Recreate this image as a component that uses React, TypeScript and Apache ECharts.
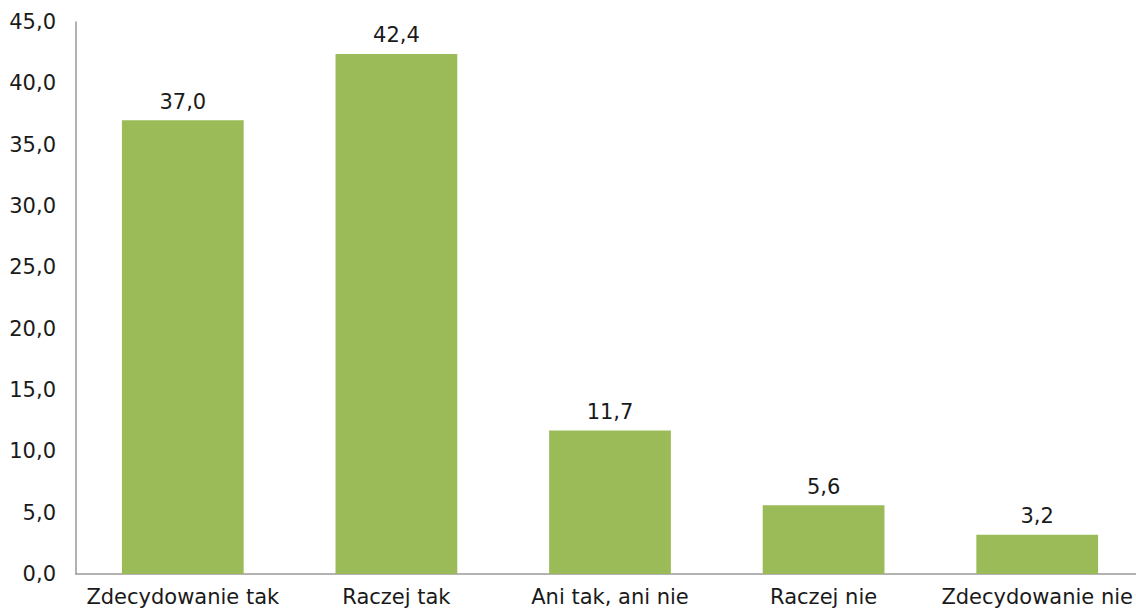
import React, { useEffect, useRef } from "react";
import * as echarts from "echarts";

const categories = ["Zdecydowanie tak", "Raczej tak", "Ani tak, ani nie", "Raczej nie", "Zdecydowanie nie"];
const values = [37.0, 42.4, 11.7, 5.6, 3.2];

const fmt = (v: number) => v.toFixed(1).replace(".", ",");

export default function App() {
  const ref = useRef<HTMLDivElement>(null);
  useEffect(() => {
    if (!ref.current) return;
    const chart = echarts.init(ref.current, undefined, { renderer: "svg" });
    const font = "'DejaVu Sans', Verdana, sans-serif";
    chart.setOption({
      animation: false,
      grid: { left: 76, right: 0, top: 22, bottom: 38 },
      xAxis: {
        type: "category",
        data: categories,
        axisLine: { lineStyle: { color: "#9a9a9a", width: 1.5 } },
        axisTick: { show: false },
        axisLabel: { color: "#1a1a1a", fontSize: 21, fontFamily: font, margin: 12, interval: 0 },
      },
      yAxis: {
        type: "value",
        min: 0,
        max: 45,
        interval: 5,
        axisLine: { show: true, lineStyle: { color: "#9a9a9a", width: 1.5 } },
        axisTick: { show: false },
        splitLine: { show: false },
        axisLabel: { color: "#1a1a1a", fontSize: 21, fontFamily: font, margin: 20, formatter: (v: number) => fmt(v) },
      },
      series: [
        {
          type: "bar",
          data: values,
          barWidth: "57%",
          itemStyle: { color: "#9bbb59" },
          label: {
            show: true,
            position: "top",
            distance: 8,
            color: "#1a1a1a",
            fontSize: 21,
            fontFamily: font,
            formatter: (p: any) => fmt(p.value),
          },
        },
      ],
    });
    return () => chart.dispose();
  }, []);
  return <div ref={ref} style={{ position: "absolute", left: 0, top: 0, width: 1144, height: 612 }} />;
}
